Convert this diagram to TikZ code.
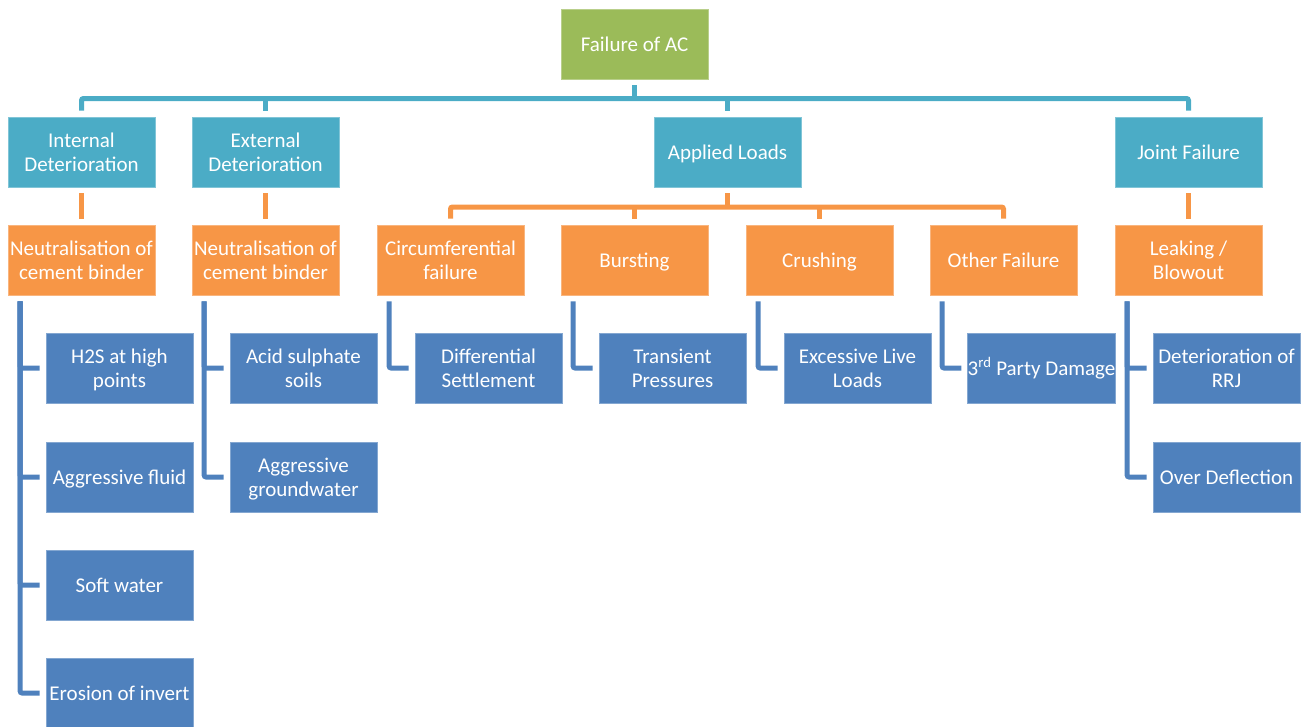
\documentclass[tikz,border=0pt]{standalone}
\usepackage{fontspec}
\setmainfont{Carlito}
\definecolor{cgreen}{HTML}{9BBB59}
\definecolor{cteal}{HTML}{4BACC6}
\definecolor{corange}{HTML}{F79646}
\definecolor{cblue}{HTML}{4F81BD}
\newcommand\boxstrut{\rule[-4.5pt]{0pt}{24pt}}
\newcommand\bt[1]{\boxstrut#1\boxstrut}
\tikzset{
  box/.style={rectangle, minimum width=147pt, minimum height=70pt, inner sep=0pt,
    align=center, text=white, font=\fontsize{21}{24}\selectfont,
    fill=#1, draw=#1!70!white, line width=0.8pt},
  gbox/.style={box=cgreen},
  tbox/.style={box=cteal},
  obox/.style={box=corange},
  bbox/.style={box=cblue},
  tline/.style={draw=cteal, line width=5pt},
  oline/.style={draw=corange, line width=5pt},
  bline/.style={draw=cblue, line width=5pt, rounded corners=2pt},
}
\begin{document}
\begin{tikzpicture}[x=1pt,y=1pt]
\useasboundingbox (0,0) rectangle (1315,-726);
% level 0
\node[gbox] (root) at (634.5,-44) {\bt{Failure of AC}};
% level 1
\node[tbox] (int) at (81.5,-152) {\bt{Internal\\Deterioration}};
\node[tbox] (ext) at (265.5,-152) {\bt{External\\Deterioration}};
\node[tbox] (app) at (727.5,-152) {\bt{Applied Loads}};
\node[tbox] (jnt) at (1188.5,-152) {\bt{Joint Failure}};
% level 2
\node[obox] (nint) at (81.5,-260) {\bt{Neutralisation of\\cement binder}};
\node[obox] (next) at (265.5,-260) {\bt{Neutralisation of\\cement binder}};
\node[obox] (circ) at (450.5,-260) {\bt{Circumferential\\failure}};
\node[obox] (burst) at (634.5,-260) {\bt{Bursting}};
\node[obox] (crush) at (819.5,-260) {\bt{Crushing}};
\node[obox] (other) at (1003.5,-260) {\bt{Other Failure}};
\node[obox] (leak) at (1188.5,-260) {\bt{Leaking /\\Blowout}};
% level 3
\node[bbox] (h2s) at (119.5,-368) {\bt{H2S at high\\points}};
\node[bbox] (aggf) at (119.5,-477) {\bt{Aggressive fluid}};
\node[bbox] (soft) at (119.5,-585) {\bt{Soft water}};
\node[bbox] (eros) at (119.5,-693) {\bt{Erosion of invert}};
\node[bbox] (acid) at (303.5,-368) {\bt{Acid sulphate\\soils}};
\node[bbox] (aggg) at (303.5,-477) {\bt{Aggressive\\groundwater}};
\node[bbox] (diff) at (488.5,-368) {\bt{Differential\\Settlement}};
\node[bbox] (trans) at (672.5,-368) {\bt{Transient\\Pressures}};
\node[bbox] (exc) at (857.5,-368) {\bt{Excessive Live\\Loads}};
\node[bbox] (third) at (1041.5,-368) {\bt{3\textsuperscript{rd} Party Damage}};
\node[bbox] (rrj) at (1226.5,-368) {\bt{Deterioration of\\RRJ}};
\node[bbox] (overd) at (1226.5,-477) {\bt{Over Deflection}};
% teal connectors
\coordinate (tbar) at (0,-98.5);
\draw[tline] ([yshift=-6pt]root.south) -- (root.south |- tbar);
\draw[tline, rounded corners=2pt] ([yshift=6pt]int.north) -- (int.north |- tbar) -- (jnt.north |- tbar) -- ([yshift=6pt]jnt.north);
\draw[tline] (ext.north |- tbar) -- ([yshift=6pt]ext.north);
\draw[tline] (app.north |- tbar) -- ([yshift=6pt]app.north);
% orange connectors
\draw[oline] ([yshift=-6pt]int.south) -- ([yshift=6pt]nint.north);
\draw[oline] ([yshift=-6pt]ext.south) -- ([yshift=6pt]next.north);
\draw[oline] ([yshift=-6pt]jnt.south) -- ([yshift=6pt]leak.north);
\coordinate (obar) at (0,-207);
\draw[oline] ([yshift=-6pt]app.south) -- (app.south |- obar);
\draw[oline, rounded corners=2pt] ([yshift=6pt]circ.north) -- (circ.north |- obar) -- (other.north |- obar) -- ([yshift=6pt]other.north);
\draw[oline] (burst.north |- obar) -- ([yshift=6pt]burst.north);
\draw[oline] (crush.north |- obar) -- ([yshift=6pt]crush.north);
% blue connectors
\foreach \c in {h2s,aggf,soft,eros}
  \draw[bline] ([xshift=12.5pt,yshift=-6pt]nint.south west) |- ([xshift=-6pt]\c.west);
\foreach \c in {acid,aggg}
  \draw[bline] ([xshift=12.5pt,yshift=-6pt]next.south west) |- ([xshift=-6pt]\c.west);
\draw[bline] ([xshift=12.5pt,yshift=-6pt]circ.south west) |- ([xshift=-6pt]diff.west);
\draw[bline] ([xshift=12.5pt,yshift=-6pt]burst.south west) |- ([xshift=-6pt]trans.west);
\draw[bline] ([xshift=12.5pt,yshift=-6pt]crush.south west) |- ([xshift=-6pt]exc.west);
\draw[bline] ([xshift=12.5pt,yshift=-6pt]other.south west) |- ([xshift=-6pt]third.west);
\foreach \c in {rrj,overd}
  \draw[bline] ([xshift=12.5pt,yshift=-6pt]leak.south west) |- ([xshift=-6pt]\c.west);
\end{tikzpicture}
\end{document}
